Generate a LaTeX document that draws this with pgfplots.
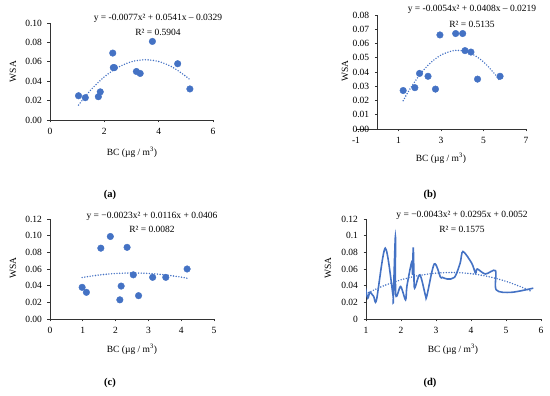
\documentclass[border=0pt]{standalone}
\usepackage{pgfplots}
\usepackage{pgfplotstable}
\pgfplotsset{compat=1.18}
\usepackage{fontspec}
\setmainfont{Liberation Serif}
\definecolor{xlblue}{HTML}{4472C4}
\newcommand\tf{\fontsize{9.5}{11}\selectfont}
\newcommand\lf{\fontsize{10.5}{12}\selectfont\bfseries}

\pgfplotstableread{
x y
1.05 0.025
1.30 0.023
1.78 0.024
1.85 0.029
2.31 0.069
2.33 0.054
2.37 0.054
3.18 0.050
3.32 0.048
3.77 0.081
4.70 0.058
5.15 0.032
}\dataA
\pgfplotstableread{
x y
1.05 0.015416
1.5 0.030925
2.0 0.0445
2.5 0.054225
3.0 0.0601
3.5 0.062125
4.0 0.0603
4.5 0.054625
5.0 0.0451
5.15 0.041492
}\trendA
\pgfplotstableread{
x y
1.22 0.027
1.77 0.029
1.99 0.039
2.39 0.037
2.74 0.028
2.95 0.066
3.69 0.067
4.02 0.067
4.13 0.055
4.41 0.054
4.72 0.035
5.78 0.037
}\dataB
\pgfplotstableread{
x y
1.22 0.01984
1.5 0.02715
2.0 0.0381
2.5 0.04635
3.0 0.0519
3.5 0.05475
3.78 0.055167
4.0 0.0549
4.5 0.05235
5.0 0.0471
5.5 0.03915
5.75 0.034163
}\trendB
\pgfplotstableread{
x y
0.98 0.038
1.11 0.032
1.55 0.085
1.84 0.099
2.13 0.023
2.17 0.0395
2.35 0.086
2.54 0.053
2.70 0.028
3.13 0.050
3.53 0.050
4.18 0.060
}\dataC
\pgfplotstableread{
x y
0.98 0.049759
1.5 0.052825
2.0 0.0546
2.5 0.055225
3.0 0.0547
3.5 0.053025
4.0 0.0502
4.18 0.048901
}\trendC
\pgfplotstableread{
x y
0.98 0.038
1.05 0.025
1.11 0.032
1.22 0.027
1.30 0.023
1.55 0.085
1.77 0.029
1.78 0.024
1.84 0.099
1.85 0.029
1.99 0.039
2.13 0.023
2.17 0.0395
2.31 0.069
2.33 0.054
2.35 0.086
2.37 0.054
2.39 0.037
2.54 0.053
2.70 0.028
2.74 0.028
2.95 0.066
3.13 0.050
3.18 0.050
3.32 0.048
3.53 0.050
3.69 0.067
3.77 0.081
4.02 0.067
4.13 0.055
4.18 0.060
4.41 0.054
4.70 0.058
4.72 0.035
5.15 0.032
5.78 0.037
}\dataD
\pgfplotstableread{
x y
1.0 0.0304
1.5 0.039775
2.0 0.047
2.5 0.052075
3.0 0.055
3.5 0.055775
4.0 0.0544
4.5 0.050875
5.0 0.0452
5.5 0.037375
5.75 0.032656
}\trendD

\pgfplotsset{
  xlaxis/.style={
    scale only axis,
    anchor=south west,
    axis lines*=left,
    axis line style={-, line width=0.8pt, black!80},
    tick align=outside,
    major tick length=2.5pt,
    tick style={line width=0.8pt, black!80},
    ticklabel style={font=\tf},
    xticklabel style={yshift=-2pt},
    yticklabel style={xshift=-2pt},
    /pgf/number format/assume math mode=true,
    scaled ticks=false,
    clip mode=individual,
  },
  scat/.style={only marks, mark=*, mark size=3.3pt, mark options={draw=xlblue, fill=xlblue}},
  trend/.style={no marks, smooth, xlblue, line width=1.6pt, line cap=round, dash pattern=on 0pt off 2.7pt},
  y2/.style={yticklabel style={/pgf/number format/.cd, fixed, fixed zerofill, precision=2}},
}

\begin{document}
\begin{tikzpicture}[x=1pt,y=1pt]
\useasboundingbox (0,0) rectangle (550,396);

% (a)
\begin{axis}[xlaxis, y2, at={(50pt,276pt)}, width=163pt, height=97pt,
  xmin=0, xmax=6, ymin=0, ymax=0.1, xtick={0,2,4,6},
  ytick={0,0.02,0.04,0.06,0.08,0.1}]
  \addplot[trend] table {\trendA};
  \addplot[scat] table {\dataA};
\end{axis}

% (b)
\begin{axis}[xlaxis, y2, at={(356pt,267pt)}, width=170pt, height=114pt,
  axis x line=bottom, axis y line=middle, axis line style={-},
  tick align=outside, hide obscured x ticks=false, hide obscured y ticks=false,
  xmin=-1, xmax=7, ymin=0, ymax=0.08, xtick={-1,1,3,5,7},
  ytick={0,0.01,0.02,0.03,0.04,0.05,0.06,0.07,0.08}]
  \addplot[trend] table {\trendB};
  \addplot[scat] table {\dataB};
\end{axis}

% (c)
\begin{axis}[xlaxis, y2, at={(50pt,77pt)}, width=164pt, height=100pt,
  xmin=0, xmax=5, ymin=0, ymax=0.12, xtick={0,1,2,3,4,5},
  ytick={0,0.02,0.04,0.06,0.08,0.1,0.12}]
  \addplot[trend] table {\trendC};
  \addplot[scat] table {\dataC};
\end{axis}

% (d)
\begin{axis}[xlaxis, at={(366pt,77pt)}, width=175pt, height=100pt,
  clip mode=global,
  yticklabel style={/pgf/number format/.cd, fixed, precision=2},
  xmin=1, xmax=6, ymin=0, ymax=0.12, xtick={1,2,3,4,5,6},
  ytick={0,0.02,0.04,0.06,0.08,0.1,0.12}]
  \addplot[no marks, smooth, xlblue, line width=1.6pt] table {\dataD};
  \addplot[trend] table {\trendD};
\end{axis}

% texts
\node[font=\tf, rotate=90] at (13,324.5) {WSA};
\node[font=\tf] at (132,244) {BC (µg / m\textsuperscript{3})};
\node[font=\tf] at (158,378) {y = -0.0077x² + 0.0541x – 0.0329};
\node[font=\tf] at (158,364) {R² = 0.5904};
\node[font=\lf] at (110,201) {(a)};

\node[font=\tf, rotate=90] at (345,325) {WSA};
\node[font=\tf] at (441,238) {BC (µg / m\textsuperscript{3})};
\node[font=\tf] at (472,387) {y = -0.0054x² + 0.0408x – 0.0219};
\node[font=\tf] at (472,372) {R² = 0.5135};
\node[font=\lf] at (430,201) {(b)};

\node[font=\tf, rotate=90] at (13,128) {WSA};
\node[font=\tf] at (132,47) {BC (µg / m\textsuperscript{3})};
\node[font=\tf] at (152,180) {y = −0.0023x² + 0.0116x + 0.0406};
\node[font=\tf] at (152,167) {R² = 0.0082};
\node[font=\lf] at (110,13) {(c)};

\node[font=\tf, rotate=90] at (328,128) {WSA};
\node[font=\tf] at (453,47) {BC (µg / m\textsuperscript{3})};
\node[font=\tf] at (462,181) {y = −0.0043x² + 0.0295x + 0.0052};
\node[font=\tf] at (462,167) {R² = 0.1575};
\node[font=\lf] at (430,13) {(d)};
\end{tikzpicture}
\end{document}
